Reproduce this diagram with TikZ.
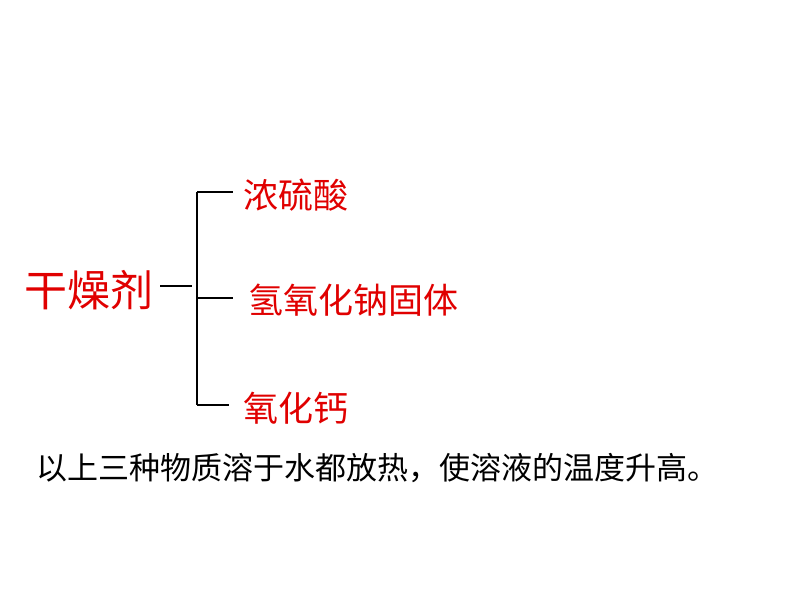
\documentclass[tikz,border=0pt]{standalone}
\usepackage{fontspec}
\newfontfamily\cjk{Noto Sans CJK SC}
\definecolor{labred}{HTML}{E00000}
\begin{document}
\begin{tikzpicture}[x=1pt,y=-1pt,
  lbl/.style={font=\cjk\fontsize{35}{38}\selectfont, text=labred, inner sep=0pt, anchor=west},
  br/.style={line width=2.4pt, black}]
\useasboundingbox (0,0) rectangle (794,596);
\node[font=\cjk\fontsize{43}{46}\selectfont, text=labred, inner sep=0pt, anchor=west] (root) at (24,290) {干燥剂};
\coordinate (r1) at (160,286);
\coordinate (r2) at (192,286);
\coordinate (vt) at (197,192);
\coordinate (vb) at (197,405);
\node[lbl] (a) at (243,195) {浓硫酸};
\node[lbl] (b) at (248,300) {氢氧化钠固体};
\node[lbl] (c) at (243,408) {氧化钙};
\draw[br] (r1) -- (r2);
\draw[br] (vt) -- (vb);
\draw[br] (vt) -- (233,192);
\draw[br] (197,298) -- (233,298);
\draw[br] (vb) -- (229,405);
\node[font=\cjk\fontsize{31}{34}\selectfont, inner sep=0pt, anchor=west] (note) at (36,468) {以上三种物质溶于水都放热，使溶液的温度升高。};
\end{tikzpicture}
\end{document}
